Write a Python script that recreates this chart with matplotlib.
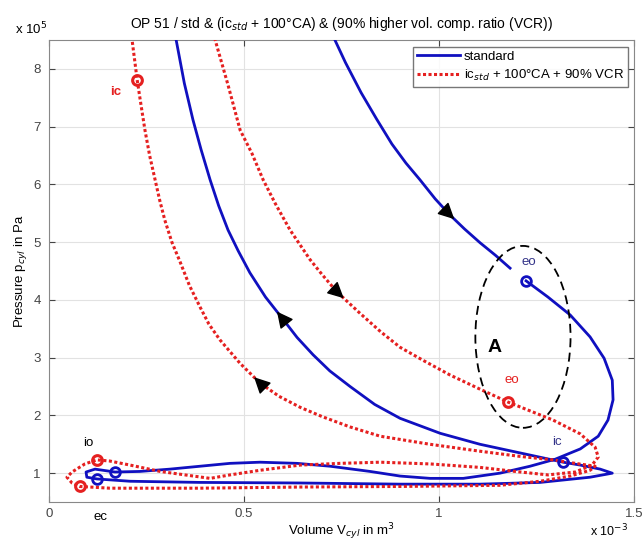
import numpy as np
import matplotlib.pyplot as plt
from matplotlib.patches import Ellipse
from matplotlib.ticker import FuncFormatter

plt.rcParams['font.family'] = ['Liberation Sans', 'DejaVu Sans']

# volume in 1e-3 m^3, pressure in 1e5 Pa
# standard cycle: expansion stroke (ends just before eo)
std_exp_V = [0.701, 0.733, 0.760, 0.800, 0.840, 0.879, 0.915, 0.951, 0.990, 1.028,
             1.065, 1.105, 1.145, 1.182]
std_exp_p = [9.00, 8.50, 8.11, 7.59, 7.13, 6.70, 6.37, 6.08, 5.75, 5.47,
             5.23, 4.99, 4.77, 4.55]

# standard cycle: eo -> blowdown -> exhaust -> intake -> ic -> compression
std_V = [1.223, 1.279, 1.336, 1.387, 1.423, 1.444, 1.446, 1.433, 1.408, 1.362,
         1.297, 1.233, 1.156, 1.062, 0.977, 0.900, 0.823, 0.721, 0.636, 0.541,
         0.464, 0.387, 0.310, 0.233, 0.169, 0.118, 0.095, 0.097, 0.123, 0.208,
         0.387, 0.644, 0.900, 1.105, 1.259, 1.387, 1.444, 1.413, 1.362, 1.318,
         1.208, 1.105, 1.003, 0.900, 0.835, 0.772, 0.720, 0.677, 0.636, 0.597,
         0.555, 0.515, 0.485, 0.459, 0.435, 0.413, 0.390, 0.369, 0.347, 0.326,
         0.310]
std_p = [4.33, 4.05, 3.74, 3.36, 2.99, 2.61, 2.27, 1.92, 1.64, 1.42,
         1.24, 1.12, 1.00, 0.91, 0.91, 0.95, 1.03, 1.12, 1.17, 1.19,
         1.17, 1.12, 1.07, 1.03, 1.02, 1.07, 1.02, 0.93, 0.90, 0.86,
         0.84, 0.83, 0.81, 0.81, 0.84, 0.93, 1.00, 1.07, 1.14, 1.19,
         1.35, 1.50, 1.69, 1.95, 2.19, 2.50, 2.77, 3.05, 3.35, 3.69,
         4.05, 4.47, 4.85, 5.21, 5.63, 6.08, 6.60, 7.12, 7.75, 8.50,
         9.10]

# late ic + VCR cycle, one continuous path
vcr_V = [0.409, 0.426, 0.459, 0.490, 0.520, 0.549, 0.580, 0.618, 0.669, 0.700,
         0.738, 0.797, 0.850, 0.900, 0.960, 1.028, 1.100, 1.177, 1.292, 1.362,
         1.400, 1.408, 1.392, 1.349, 1.279, 1.195, 1.105, 0.977, 0.849, 0.746,
         0.644, 0.541, 0.464, 0.413, 0.349, 0.285, 0.208, 0.156, 0.123, 0.092,
         0.059, 0.046, 0.059, 0.079, 0.156, 0.387, 0.644, 0.900, 1.156, 1.259,
         1.336, 1.387, 1.400, 1.349, 1.292, 1.208, 1.105, 0.977, 0.849, 0.772,
         0.700, 0.644, 0.590, 0.541, 0.490, 0.438, 0.410, 0.387, 0.360, 0.336,
         0.315, 0.297, 0.284, 0.272, 0.258, 0.246, 0.236, 0.226, 0.213, 0.205]
vcr_p = [9.00, 8.50, 7.72, 6.94, 6.54, 6.08, 5.67, 5.21, 4.70, 4.44,
         4.14, 3.77, 3.45, 3.18, 2.95, 2.70, 2.47, 2.23, 1.92, 1.68,
         1.45, 1.28, 1.14, 1.02, 0.97, 1.03, 1.10, 1.16, 1.19, 1.17,
         1.14, 1.05, 0.97, 0.91, 0.97, 1.03, 1.14, 1.21, 1.23, 1.16,
         1.02, 0.93, 0.83, 0.77, 0.74, 0.74, 0.76, 0.77, 0.79, 0.86,
         0.95, 1.05, 1.12, 1.17, 1.23, 1.29, 1.38, 1.50, 1.64, 1.80,
         1.98, 2.14, 2.33, 2.56, 2.90, 3.31, 3.58, 3.88, 4.25, 4.66,
         5.00, 5.38, 5.72, 6.08, 6.50, 6.94, 7.37, 7.81, 8.50, 9.10]

# valve event markers (eo, ic, io, ec)
std_evt_V = [1.223, 1.318, 0.169, 0.123]
std_evt_p = [4.33, 1.19, 1.02, 0.90]
vcr_evt_V = [1.177, 0.226, 0.123, 0.079]
vcr_evt_p = [2.23, 7.81, 1.23, 0.77]

# where the direction arrows sit (index into the paths)
std_exp_arrow = 9
std_arrow = 49
vcr_arrows = [10, 63]

blue = '#1010c0'
red = '#e52020'

fig = plt.figure(figsize=(6.43, 5.41), dpi=100)
ax = fig.add_axes([0.0762, 0.072, 0.910, 0.854])

ax.grid(True, color='#e2e2e2', lw=0.8, zorder=0)

ax.plot(std_exp_V, std_exp_p, color=blue, lw=2, label='standard', zorder=3)
ax.plot(std_V, std_p, color=blue, lw=2, zorder=3)
ax.plot(vcr_V, vcr_p, color=red, lw=2.2, ls=(0, (1, 0.8)),
        label='ic$_{std}$ + 100°CA + 90% VCR', zorder=3)

ax.plot(std_evt_V, std_evt_p, 'o', ms=7, mfc='none', mec=blue, mew=2, zorder=4)
ax.plot(vcr_evt_V, vcr_evt_p, 'o', ms=7, mfc='none', mec=red, mew=2.2, zorder=4)


def arrow(xs, ys, i):
    x0, y0 = xs[i], ys[i]
    x1, y1 = xs[i + 1], ys[i + 1]
    ax.annotate('', xy=(x0 + 0.3 * (x1 - x0), y0 + 0.3 * (y1 - y0)), xytext=(x0, y0),
                arrowprops=dict(arrowstyle='-|>,head_length=0.5,head_width=0.25',
                                color='k', lw=1, mutation_scale=20,
                                shrinkA=0, shrinkB=0), zorder=5)


arrow(std_exp_V, std_exp_p, std_exp_arrow)
arrow(std_V, std_p, std_arrow)
for i in vcr_arrows:
    arrow(vcr_V, vcr_p, i)

# dashed region "A"
ax.add_patch(Ellipse((1.215, 3.36), 0.244, 3.15, fill=False, ls=(0, (5, 3)),
                     lw=1.3, ec='k', zorder=5))
ax.text(1.141, 3.18, 'A', fontsize=14, fontweight='bold', ha='center', va='center')

# event labels
ax.text(0.172, 7.60, 'ic', color=red, fontsize=9.5, fontweight='bold', ha='center', va='center')
ax.text(1.187, 2.61, 'eo', color=red, fontsize=9.5, ha='center', va='center')
ax.text(1.231, 4.66, 'eo', color='#333388', fontsize=9.5, ha='center', va='center')
ax.text(1.303, 1.54, 'ic', color='#333388', fontsize=9.5, ha='center', va='center')
ax.text(0.100, 1.52, 'io', color='k', fontsize=9.5, ha='center', va='center')
ax.text(0.133, 0.24, 'ec', color='k', fontsize=9.5, ha='center', va='center', clip_on=False)

ax.set_xlim(0, 1.5)
ax.set_ylim(0.5, 8.5)
ax.set_xticks([0, 0.5, 1, 1.5])
ax.set_yticks(range(1, 9))
fmt = FuncFormatter(lambda v, pos: '%g' % v)
ax.xaxis.set_major_formatter(fmt)
ax.yaxis.set_major_formatter(fmt)
ax.tick_params(direction='in', top=True, right=True, length=4, labelsize=9.5,
               colors='#444444')
ax.tick_params(axis='x', pad=4)
ax.tick_params(axis='y', pad=6)
for s in ax.spines.values():
    s.set_color('#888888')

ax.set_xlabel('Volume V$_{cyl}$ in m$^3$', fontsize=9.5, labelpad=1)
ax.set_ylabel('Pressure p$_{cyl}$ in Pa', fontsize=9.5, labelpad=3)
ax.set_title('OP 51 / std & (ic$_{std}$ + 100°CA) & (90% higher vol. comp. ratio (VCR))',
             fontsize=10, pad=9)
ax.text(-0.058, 1.006, 'x 10$^5$', transform=ax.transAxes, fontsize=9.5, va='bottom')
ax.text(0.925, -0.075, 'x 10$^{-3}$', transform=ax.transAxes, fontsize=9, va='baseline')

ax.legend(loc='upper right', fontsize=9.5, frameon=True, fancybox=False,
          edgecolor='#555555', borderpad=0.3, labelspacing=0.35,
          handlelength=3.2, handletextpad=0.3, borderaxespad=0.5)

fig.savefig('out.png', dpi=100)
